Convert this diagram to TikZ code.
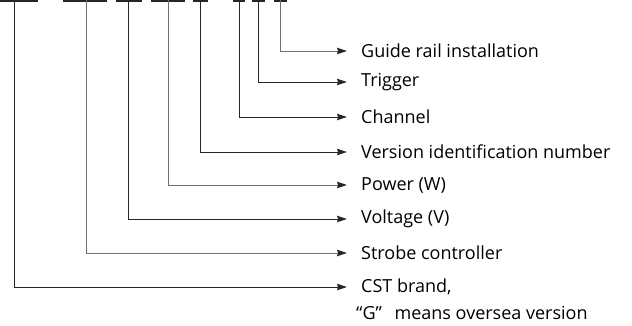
\documentclass[tikz,border=0pt]{standalone}
\usepackage{fontspec}
\setmainfont{Open Sans}
\usetikzlibrary{arrows.meta,positioning}
\definecolor{cDark}{HTML}{262626}
\definecolor{cGrey}{HTML}{707070}
\tikzset{
  bar/.style={line width=1.6pt, draw=#1},
  lead/.style={-{Stealth[length=10pt,width=6.5pt,inset=1pt,color=cDark]}, line width=1pt, draw=#1},
  lbl/.style={anchor=west, inner xsep=14pt, inner ysep=0pt, text=black,
              font=\fontsize{18}{21}\selectfont},
}

\begin{document}
\begin{tikzpicture}[x=1pt,y=-1pt]
  \useasboundingbox (0,0) rectangle (632,325);
  % underlines of the model code
  \draw[bar=cDark] (0,0.8) -- (38,0.8);
  \draw[bar=cDark] (63,0.8) -- (107,0.8);
  \draw[bar=cDark] (116,0.8) -- (142,0.8);
  \draw[bar=cDark] (151,0.8) -- (185,0.8);
  \draw[bar=cDark] (193,0.8) -- (208,0.8);
  \draw[bar=cDark] (233,0.8) -- (245,0.8);
  \draw[bar=cDark] (252,0.8) -- (265,0.8);
  \draw[bar=cDark] (274,0.8) -- (287,0.8);
  \coordinate (brand) at (14,0);
  \coordinate (strobe) at (86,0);
  \coordinate (volt) at (128,0);
  \coordinate (power) at (168,0);
  \coordinate (version) at (200,0);
  \coordinate (channel) at (239,0);
  \coordinate (trigger) at (258,0);
  \coordinate (rail) at (280,0);
  % meanings
  \node[lbl] (railLbl) at (347,51) {Guide rail installation};
  \node[lbl] (triggerLbl) at (347,82) {Trigger};
  \node[lbl] (channelLbl) at (347,117) {Channel};
  \node[lbl] (versionLbl) at (347,152) {Version identification number};
  \node[lbl] (powerLbl) at (347,185) {Power (W)};
  \node[lbl] (voltLbl) at (347,219) {Voltage (V)};
  \node[lbl] (strobeLbl) at (347,253) {Strobe controller};
  \node[lbl] (brandLbl) at (347,287) {CST brand,};
  \node[lbl, inner xsep=0pt] (brandNote) at (356,313) {“G”\hspace{8pt} means oversea version};
  % leaders
  \draw[lead=cGrey] (rail) |- (railLbl.west);
  \draw[lead=cDark] (trigger) |- (triggerLbl.west);
  \draw[lead=cDark] (channel) |- (channelLbl.west);
  \draw[lead=cDark] (version) |- (versionLbl.west);
  \draw[lead=cGrey] (power) |- (powerLbl.west);
  \draw[lead=cDark] (volt) |- (voltLbl.west);
  \draw[lead=cGrey] (strobe) |- (strobeLbl.west);
  \draw[lead=cDark] (brand) |- (brandLbl.west);
\end{tikzpicture}
\end{document}
